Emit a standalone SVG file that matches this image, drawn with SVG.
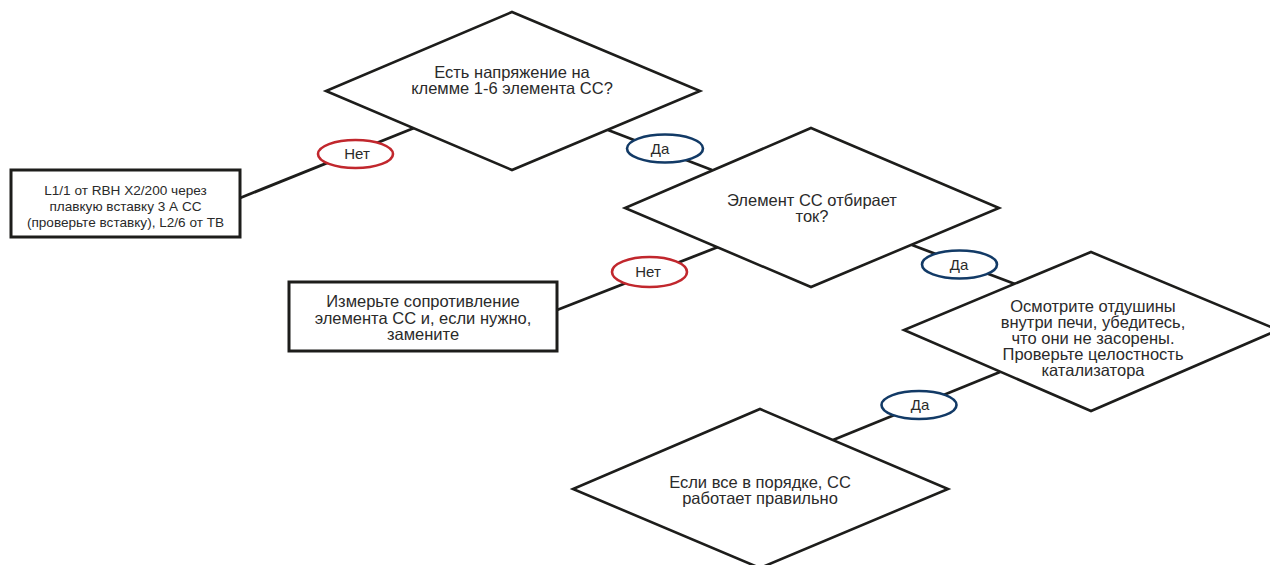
<svg xmlns="http://www.w3.org/2000/svg" width="1270" height="565" viewBox="0 0 1270 565">
<style>
.bg{fill:#ffffff}
.dia{fill:#ffffff;stroke:#1d1d1b;stroke-width:2.6;stroke-linejoin:miter}
.box{fill:#ffffff;stroke:#1d1d1b;stroke-width:3}
.con{stroke:#1d1d1b;stroke-width:2.8;fill:none}
.no{fill:#ffffff;stroke:#c1272d;stroke-width:2.6}
.yes{fill:#ffffff;stroke:#123a66;stroke-width:2.6}
text{font-family:"Liberation Sans",Arial,sans-serif;fill:#2a2a2a;text-anchor:middle}
.t16{font-size:16.5px}
.t13{font-size:13.6px}
.lbl{font-size:15px}
</style>
<rect class="bg" x="0" y="0" width="1270" height="565"/>
<g id="connectors">
<line class="con" x1="240" y1="198" x2="414" y2="128"/>
<line class="con" x1="608" y1="130" x2="712" y2="170"/>
<line class="con" x1="557" y1="310" x2="718" y2="247"/>
<line class="con" x1="912" y1="245" x2="1015" y2="284"/>
<line class="con" x1="1000" y1="372" x2="833" y2="440"/>
</g>
<g id="n_d1">
<polygon class="dia" points="512,12 700,91 512,170 326,91"/>
<text class="t16" x="512" y="77.5">Есть напряжение на</text>
<text class="t16" x="512" y="93.5">клемме 1-6 элемента СС?</text>
</g>
<g id="n_box1">
<rect class="box" x="11" y="170" width="229" height="67"/>
<text class="t13" x="125.5" y="194.5">L1/1 от RBH X2/200 через</text>
<text class="t13" x="125.5" y="210.5">плавкую вставку 3 А СС</text>
<text class="t13" x="125.5" y="226.5">(проверьте вставку), L2/6 от ТВ</text>
</g>
<g id="n_d2">
<polygon class="dia" points="811,128 999,208 811,287 625,208"/>
<text class="t16" x="812" y="205.5">Элемент СС отбирает</text>
<text class="t16" x="812" y="221.5">ток?</text>
</g>
<g id="n_box2">
<rect class="box" x="289" y="282" width="268" height="69"/>
<text class="t16" x="423" y="307">Измерьте сопротивление</text>
<text class="t16" x="423" y="323.5">элемента СС и, если нужно,</text>
<text class="t16" x="423" y="340">замените</text>
</g>
<g id="n_d3">
<polygon class="dia" points="1091,252 1278,330 1091,411 904,330"/>
<text class="t16" x="1093" y="311.5">Осмотрите отдушины</text>
<text class="t16" x="1093" y="327.5">внутри печи, убедитесь,</text>
<text class="t16" x="1093" y="343.5">что они не засорены.</text>
<text class="t16" x="1093" y="359.5">Проверьте целостность</text>
<text class="t16" x="1093" y="375.5">катализатора</text>
</g>
<g id="n_d4">
<polygon class="dia" points="760,409 948,489 760,568 573,489"/>
<text class="t16" x="760" y="487.5">Если все в порядке, СС</text>
<text class="t16" x="760" y="503.5">работает правильно</text>
</g>
<g id="labels">
<ellipse class="no" cx="355.5" cy="154" rx="37.5" ry="14"/>
<text class="lbl" x="357" y="159">Нет</text>
<ellipse class="yes" cx="665" cy="148.5" rx="38" ry="14"/>
<text class="lbl" x="660" y="153.5">Да</text>
<ellipse class="no" cx="649.5" cy="272" rx="37.5" ry="15"/>
<text class="lbl" x="648" y="277">Нет</text>
<ellipse class="yes" cx="959.5" cy="264.5" rx="37.5" ry="14"/>
<text class="lbl" x="959" y="269.5">Да</text>
<ellipse class="yes" cx="919" cy="405" rx="37.5" ry="14"/>
<text class="lbl" x="920" y="410">Да</text>
</g>
</svg>
